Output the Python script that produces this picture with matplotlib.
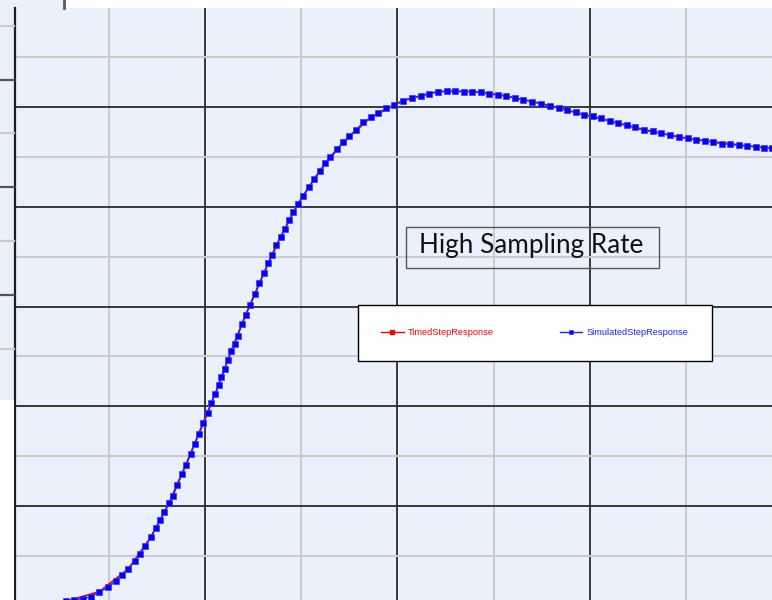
import matplotlib
matplotlib.use("Agg")
import matplotlib.pyplot as plt
from matplotlib.patches import Rectangle
from matplotlib.lines import Line2D
from matplotlib.ticker import MultipleLocator

# ---- data ----
sim_t = [0.278, 0.319, 0.365, 0.408, 0.451, 0.498, 0.536, 0.567, 0.602, 0.636,
         0.662, 0.690, 0.718, 0.744, 0.768, 0.789, 0.813, 0.835, 0.856, 0.881,
         0.901, 0.927, 0.946, 0.970, 0.990, 1.014, 1.033, 1.052, 1.071, 1.083,
         1.102, 1.118, 1.135, 1.154, 1.170, 1.191, 1.211, 1.235, 1.261, 1.282,
         1.306, 1.327, 1.348, 1.370, 1.393, 1.416, 1.438, 1.459, 1.483, 1.509,
         1.540, 1.566, 1.597, 1.623, 1.649, 1.684, 1.717, 1.750, 1.784, 1.822,
         1.861, 1.900, 1.940, 1.982, 2.030, 2.075, 2.122, 2.165, 2.212, 2.256,
         2.300, 2.345, 2.389, 2.432, 2.475, 2.521, 2.565, 2.610, 2.654, 2.700,
         2.744, 2.792, 2.839, 2.882, 2.926, 2.969, 3.014, 3.057, 3.102, 3.147,
         3.191, 3.235, 3.281, 3.326, 3.369, 3.416, 3.461, 3.508, 3.551, 3.596,
         3.641, 3.684, 3.727, 3.774, 3.817, 3.861, 3.904, 3.944, 3.987]
sim_y = [0.009, 0.012, 0.014, 0.018, 0.028, 0.037, 0.050, 0.061, 0.074, 0.090,
         0.103, 0.120, 0.137, 0.156, 0.172, 0.188, 0.206, 0.221, 0.242, 0.264,
         0.283, 0.304, 0.325, 0.344, 0.366, 0.386, 0.407, 0.425, 0.442, 0.458,
         0.475, 0.493, 0.510, 0.525, 0.541, 0.564, 0.583, 0.604, 0.625, 0.647,
         0.667, 0.687, 0.704, 0.723, 0.740, 0.756, 0.773, 0.789, 0.806, 0.822,
         0.840, 0.856, 0.872, 0.888, 0.900, 0.915, 0.929, 0.942, 0.954, 0.969,
         0.979, 0.988, 0.997, 1.004, 1.013, 1.019, 1.023, 1.027, 1.031, 1.032,
         1.033, 1.031, 1.031, 1.030, 1.027, 1.025, 1.022, 1.018, 1.015, 1.011,
         1.007, 1.003, 0.999, 0.994, 0.989, 0.984, 0.981, 0.977, 0.972, 0.967,
         0.964, 0.960, 0.954, 0.952, 0.947, 0.944, 0.940, 0.937, 0.934, 0.932,
         0.930, 0.926, 0.925, 0.923, 0.922, 0.920, 0.918, 0.917, 0.916]
# timed response: sparser samples of the same curve
timed_t = sim_t[::4]
timed_y = sim_y[::4]

series_labels = ["TimedStepResponse", "SimulatedStepResponse"]
annotation = "High Sampling Rate"

BG = "#eaf1fc"
W, H = 772, 600

fig = plt.figure(figsize=(W / 100, H / 100), dpi=100, facecolor=BG)

# axes: left edge at px 15, top at px 8, extending past right/bottom edges
x0, x1 = 0.013, 4.0
y0, y1 = -0.0085, 1.1985
left_px, top_px = 15, 8
right_px = left_px + (x1 - x0) * 192.5
bottom_px = top_px + (y1 - y0) * 498.75
ax = fig.add_axes([left_px / W, 1 - bottom_px / H,
                   (right_px - left_px) / W, (bottom_px - top_px) / H])
ax.set_facecolor(BG)
ax.set_xlim(x0, x1)
ax.set_ylim(y0, y1)

ax.xaxis.set_major_locator(MultipleLocator(1.0))
ax.xaxis.set_minor_locator(MultipleLocator(0.5))
ax.yaxis.set_major_locator(MultipleLocator(0.2))
ax.yaxis.set_minor_locator(MultipleLocator(0.1))
ax.grid(which="minor", color="#c9cbcf", linewidth=1.5, zorder=0)
ax.grid(which="major", color="#2a2a2a", linewidth=1.3, zorder=0)
ax.set_axisbelow(True)
ax.tick_params(which="both", length=0, labelbottom=False, labelleft=False)
for s in ["top", "right", "bottom"]:
    ax.spines[s].set_visible(False)
ax.spines["left"].set_color("#1e1e1e")
ax.spines["left"].set_linewidth(1.6)

ax.plot(timed_t, timed_y, color="#ff0000", linewidth=1.4, marker="s",
        markersize=2.5, label=series_labels[0], zorder=3)
ax.plot(sim_t, sim_y, color="#2222ee", linewidth=0.9, marker="s",
        markersize=4.8, markerfacecolor="#0000ff", markeredgecolor="#3a3aff",
        markeredgewidth=0.5, label=series_labels[1], zorder=4)

# annotation box
ax.add_patch(Rectangle((2.044, 0.677), 3.358 - 2.044, 0.759 - 0.677,
                       fill=False, edgecolor="#555555", linewidth=1.0, zorder=5))
ax.text(2.694, 0.708, annotation, ha="center", va="baseline",
        fontsize=18.8, family="Lato", color="#111111", zorder=6)

# legend
leg = ax.legend(loc="upper left",
                bbox_to_anchor=(358 / W, 1 - 305 / H),
                bbox_transform=fig.transFigure,
                ncol=2, prop={"family": "Liberation Sans", "size": 6.7},
                frameon=True, fancybox=False, borderpad=2.5,
                handlelength=2.4, handletextpad=0.45, columnspacing=7.1,
                borderaxespad=0, labelcolor="linecolor")
leg.get_frame().set_edgecolor("#000000")
leg.get_frame().set_linewidth(1.0)
leg.get_frame().set_facecolor("white")
leg.get_frame().set_alpha(1.0)
leg.set_zorder(10)
for h in leg.legend_handles:
    h.set_markersize(2.8)
    h.set_linewidth(1.0)

# decorations around the plot area (screenshot residue)
fig.add_artist(Rectangle((0, 0), 14 / W, 200 / H, transform=fig.transFigure,
                         facecolor="white", edgecolor="none", zorder=2))
fig.add_artist(Rectangle((65 / W, 1 - 8 / H), 1, 8 / H, transform=fig.transFigure,
                         facecolor="white", edgecolor="none", zorder=2))
fig.add_artist(Line2D([63.5 / W, 63.5 / W], [1 - 8 / H, 1], transform=fig.transFigure,
                      color="#555a60", linewidth=2.0, zorder=3))
for i, ypx in enumerate([26, 80, 133, 187, 241, 295, 349]):
    col = "#c9cbcf" if i % 2 == 0 else "#505560"
    fig.add_artist(Line2D([0, 14 / W], [1 - ypx / H, 1 - ypx / H],
                          transform=fig.transFigure, color=col, linewidth=1.6, zorder=3))

fig.savefig("out.png", dpi=100, facecolor=BG)
